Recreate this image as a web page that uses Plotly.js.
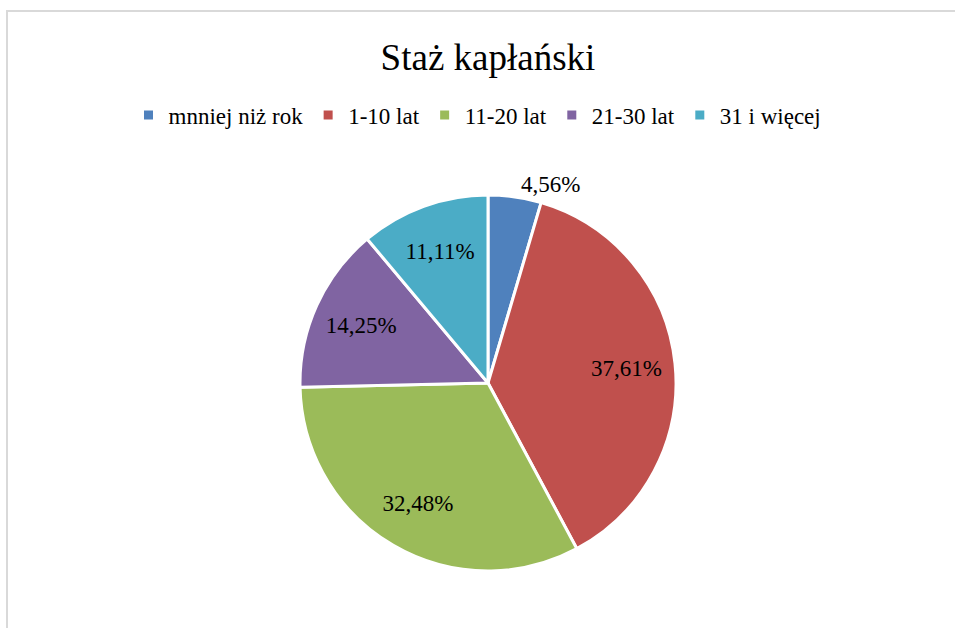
<!DOCTYPE html>
<html>
<head>
<meta charset="utf-8">
<script src="https://cdn.plot.ly/plotly-3.0.1.min.js"></script>
<style>
  html, body { margin: 0; padding: 0; background: #fff; }
  #chart { width: 955px; height: 628px; }
</style>
</head>
<body>
<div id="chart"></div>
<script>
// Staż kapłański - udział procentowy
const categories = ['mnniej niż rok', '1-10 lat', '11-20 lat', '21-30 lat', '31 i więcej'];
const shares = [4.56, 37.61, 32.48, 14.25, 11.11];
const colors = ['#4F81BD', '#C0504D', '#9BBB59', '#8064A2', '#4BACC6'];

const W = 955, H = 628;
const SERIF = '"Liberation Serif", "Times New Roman", "DejaVu Serif", serif';

function plotPie() {
    const labels = shares.map(v => v.toFixed(2).replace('.', ',') + '%');
    const dom = { x: [(488 - 188) / W, (488 + 188) / W], y: [1 - 571 / H, 1 - 195 / H] };

    // slices
    const pie = {
        type: 'pie',
        labels: categories,
        values: shares,
        textinfo: 'none',
        sort: false,
        direction: 'clockwise',
        rotation: 0,
        marker: { colors: colors, line: { color: '#ffffff', width: 3 } },
        domain: dom,
        automargin: false,
        hoverinfo: 'label+percent'
    };

    // data labels (ring placement, like Excel's best fit)
    const text = {
        type: 'pie',
        labels: categories,
        values: shares,
        text: labels,
        textinfo: 'text',
        textposition: ['outside', 'inside', 'inside', 'inside', 'inside'],
        insidetextorientation: 'horizontal',
        sort: false,
        direction: 'clockwise',
        rotation: 0,
        hole: 0.48,
        showlegend: false,
        marker: { colors: categories.map(() => 'rgba(0,0,0,0)'), line: { width: 0 } },
        textfont: { family: SERIF, size: 23, color: '#000' },
        outsidetextfont: { family: SERIF, size: 23, color: '#000' },
        domain: dom,
        automargin: false,
        hoverinfo: 'skip'
    };

    const layout = {
        width: W,
        height: H,
        margin: { t: 0, r: 0, b: 0, l: 0 },
        paper_bgcolor: '#ffffff',
        font: { family: SERIF, color: '#000' },
        title: {
            text: 'Staż kapłański',
            font: { family: SERIF, size: 37, color: '#000' },
            x: 0.511,
            xanchor: 'center',
            y: 1 - 57 / H,
            yanchor: 'middle'
        },
        showlegend: true,
        legend: {
            orientation: 'h',
            x: 0.5,
            xanchor: 'center',
            y: 1 - 115 / H,
            yanchor: 'middle',
            font: { family: SERIF, size: 23, color: '#000' },
            traceorder: 'normal',
            itemwidth: 30
        },
        shapes: [{
            type: 'rect',
            xref: 'paper', yref: 'paper',
            x0: 7 / W, x1: 1.02,
            y0: -0.02, y1: 1 - 11 / H,
            line: { color: '#d9d9d9', width: 2 },
            fillcolor: 'rgba(0,0,0,0)'
        }]
    };

    Plotly.newPlot('chart', [pie, text], layout, { displayModeBar: false, staticPlot: true });
}

plotPie();
</script>
</body>
</html>
